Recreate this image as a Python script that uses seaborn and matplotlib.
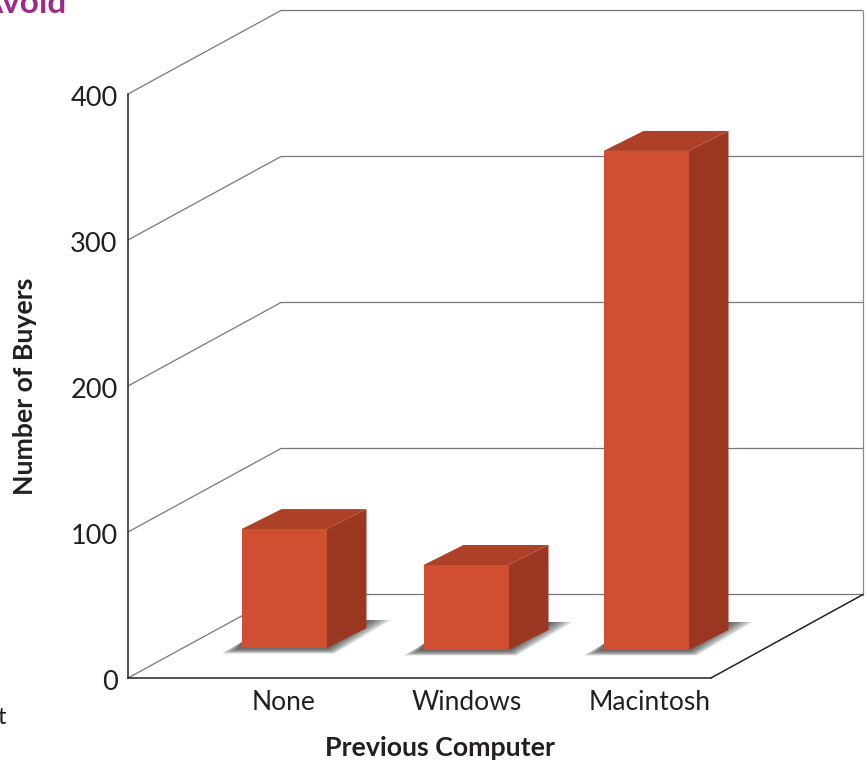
import matplotlib
matplotlib.use("Agg")
import matplotlib.pyplot as plt
from matplotlib.transforms import ScaledTranslation
import numpy as np
import seaborn as sns

categories = ["None", "Windows", "Macintosh"]
buyers = [81.5, 58.2, 341.8]
y_ticks = [0, 100, 200, 300, 400]

sns.set_theme(style="white")
plt.rcParams["font.family"] = ["Lato", "DejaVu Sans"]

W, H = 866, 761
fig = plt.figure(figsize=(W / 100, H / 100), dpi=100)
ax = fig.add_axes([128 / W, (H - 678) / H, 583 / W, 584 / H])

X0, X1 = -156 / 180, 427 / 180
ax.set_xlim(X0, X1)
ax.set_ylim(0, 400)
PX, PY = 180.0, 584 / 400
FRONT, SIDE, TOP = "#D04E31", "#9B3720", "#AC4127"
BW = 85 / 180
# layout of the pseudo-3D floor: where each bar stands, in axis units
floor_lift = [20.5, 19.2, 19.2]
floor_shift = [0, 2 / PX, 2 / PX]

# projected walls
dxw, dyw = 153 / PX, 83.5 / PY
xr = X1 + 152 / PX
for v in y_ticks:
    ax.plot([X0, X0 + dxw, xr], [v, v + dyw, v + dyw], color="#777777", lw=0.9,
            clip_on=False, zorder=1, solid_joinstyle="miter")
ax.plot([xr, xr], [dyw, 400 + dyw], color="#8a8a8a", lw=0.9, clip_on=False, zorder=1)
ax.plot([X1, xr], [0, dyw], color="#222222", lw=1.1, clip_on=False, zorder=2)

sns.barplot(x=categories, y=buyers, color=FRONT, width=BW, saturation=1,
            linewidth=0, ax=ax, zorder=5)
ax.set_xlim(X0, X1)
ax.set_ylim(0, 400)

# depth faces and floor shadow
dx, dy = 40 / PX, 20 / PY
for i, (v, patch) in enumerate(zip(buyers, ax.patches)):
    patch.set_y(floor_lift[i])
    patch.set_x(patch.get_x() + floor_shift[i])
    patch.set_clip_on(False)
    l, r = patch.get_x(), patch.get_x() + BW
    b, t = floor_lift[i], floor_lift[i] + v
    for k in np.linspace(1.0, 0.2, 7):
        ax.fill([l - 20 * k / PX, r + 8 * k / PX, r + dx + 24 * k / PX, r + dx - 2 * k / PX, l],
                [b - 5.5 * k / PY, b - 5.5 * k / PY, b + dy + 8 / PY, b + dy + 8 / PY, b + 6 / PY],
                color="#202020", alpha=0.14, lw=0, zorder=3, clip_on=False)
    ax.fill([r, r + dx, r + dx, r], [b, b + dy, t + dy, t], color=SIDE, lw=0, zorder=4, clip_on=False)
    ax.fill([l, r, r + dx, l + dx], [t, t, t + dy, t + dy], color=TOP, lw=0, zorder=4, clip_on=False)

ax.set_xticks([0, 1.015, 2.03], categories)
ax.set_yticks(y_ticks)
ax.tick_params(axis="y", length=0, pad=7.5, labelsize=19.5, labelcolor="#231f20")
ax.tick_params(axis="x", length=0, pad=9, labelsize=19, labelcolor="#231f20")
down = ScaledTranslation(0, -2 / 100, fig.dpi_scale_trans)
for lab in ax.get_yticklabels():
    lab.set_transform(lab.get_transform() + down)
for s in ("top", "right"):
    ax.spines[s].set_visible(False)
for s in ("left", "bottom"):
    ax.spines[s].set_color("#222222")
    ax.spines[s].set_linewidth(1.1)

ax.set_xlabel("")
ax.set_ylabel("")
fig.text(440 / W, 1 - 748.5 / H, "Previous Computer", ha="center", va="center",
         fontsize=19.3, fontweight="bold", color="#231f20")
fig.text(25 / W, 1 - 386 / H, "Number of Buyers", ha="center", va="center", rotation=90,
         fontsize=19.2, fontweight="bold", color="#231f20")
fig.text(66 / W, 1 - 13 / H, "Avoid", ha="right", va="baseline", fontsize=24,
         fontweight="bold", color="#9B2A8A")
fig.text(6 / W, 1 - 724 / H, "t", ha="right", va="baseline", fontsize=17, color="#231f20")

fig.savefig("out.png", dpi=100)
